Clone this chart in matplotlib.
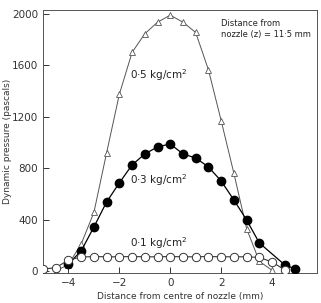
import numpy as np
import matplotlib
matplotlib.use('Agg')
import matplotlib.pyplot as plt

# ---- data ----
# 0.5 kg/cm^2 (open triangles)
x_05 = [-4.5, -4.0, -3.5, -3.0, -2.5, -2.0, -1.5, -1.0, -0.5, 0.0, 0.5, 1.0, 1.5, 2.0, 2.5, 3.0, 3.5, 4.0]
p_05 = [0, 50, 210, 455, 920, 1375, 1700, 1845, 1935, 1990, 1935, 1855, 1565, 1170, 760, 330, 75, 5]

# 0.3 kg/cm^2 (filled circles)
x_03 = [-4.0, -3.5, -3.0, -2.5, -2.0, -1.5, -1.0, -0.5, 0.0, 0.5, 1.0, 1.5, 2.0, 2.5, 3.0, 3.5, 4.5, 4.9]
p_03 = [54, 156, 342, 537, 685, 825, 910, 965, 988, 910, 879, 809, 700, 552, 397, 218, 47, 16]

# 0.1 kg/cm^2 (open circles)
x_01 = [-5.0, -4.5, -4.0, -3.5, -3.0, -2.5, -2.0, -1.5, -1.0, -0.5, 0.0, 0.5, 1.0, 1.5, 2.0, 2.5, 3.0, 3.5, 4.0, 4.5]
p_01 = [15, 25, 85, 108, 112, 110, 110, 112, 110, 110, 112, 110, 110, 112, 110, 110, 110, 105, 70, 8]

yticks = [0, 400, 800, 1200, 1600, 2000]
xticks = [-4, -2, 0, 2, 4]

fig = plt.figure(figsize=(3.21, 3.03), dpi=100)
ax = fig.add_axes([0.134, 0.099, 0.853, 0.868])

ax.plot(x_05, p_05, color='#555555', lw=0.7, marker='^', ms=4,
        mfc='white', mec='#555555', mew=0.6, zorder=2)
ax.plot(x_03, p_03, color='black', lw=0.9, marker='o', ms=6,
        mfc='black', mec='black', zorder=3)
ax.plot(x_01, p_01, color='#333333', lw=0.8, marker='o', ms=6,
        mfc='white', mec='#333333', mew=0.7, zorder=4)

ax.set_xlim(-5, 5.76)
ax.set_ylim(-16, 2030)
ax.set_xticks(xticks)
ax.set_xticklabels(['\u22124', '\u22122', '0', '2', '4'])
ax.set_yticks(yticks)

for s in ax.spines.values():
    s.set_linewidth(0.7)
    s.set_color('#555555')
ax.tick_params(axis='both', direction='in', length=4, width=0.7,
               labelsize=7.5, colors='#333333')

ax.text(-1.6, 1520, '0·5 kg/cm$^2$', fontsize=7.5, color='#222222', va='center')
ax.text(-1.6, 710, '0·3 kg/cm$^2$', fontsize=7.5, color='#222222', va='center')
ax.text(-1.6, 220, '0·1 kg/cm$^2$', fontsize=7.5, color='#222222', va='center')
ax.text(2.0, 1960, 'Distance from\nnozzle (z) = 11·5 mm', fontsize=6,
        color='#222222', va='top', linespacing=1.3)

ax.set_xlabel('Distance from centre of nozzle (mm)', fontsize=6.5, color='#333333', labelpad=3)
ax.set_ylabel('Dynamic pressure (pascals)', fontsize=6.5, color='#333333')
ax.yaxis.set_label_coords(-0.115, 0.5)

fig.savefig('out.png', dpi=100)
